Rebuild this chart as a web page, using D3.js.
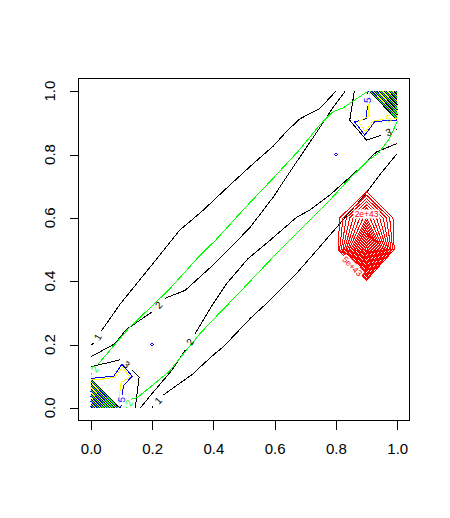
<!DOCTYPE html>
<html><head><meta charset="utf-8">
<script src="https://cdn.jsdelivr.net/npm/d3@7"></script>
<style>body{margin:0;background:#fff}svg{display:block}</style>
</head><body><svg id="chart" width="450" height="518"></svg>
<script>
// ---------- data ----------
const xTickValues = [0, 0.2, 0.4, 0.6, 0.8, 1.0];
const yTickValues = [0, 0.2, 0.4, 0.6, 0.8, 1.0];
const tickLabels = ["0.0", "0.2", "0.4", "0.6", "0.8", "1.0"];

// black contour lines (null = gap where the label sits)
const level1Upper = [[0,0.198],[0.012,0.205],null,[0.034,0.242],[0.097,0.329],[0.194,0.445],[0.29,0.561],[0.36,0.618],[0.45,0.7],[0.53,0.771],[0.595,0.826],[0.64,0.874],[0.683,0.913],[0.747,0.945],[0.8,1.0]];
const level1Lower = [[0.2,0],[0.204,0.006],null,[0.236,0.04],[0.259,0.056],[0.335,0.108],[0.357,0.129],[0.406,0.172],[0.433,0.193],[0.52,0.282],[0.585,0.34],[0.671,0.424],[0.709,0.466],[0.747,0.508],[0.82,0.59],[0.893,0.671],[0.942,0.735],[1.0,0.803]];
const level2Upper = [[0,0.161],[0.08,0.203],[0.113,0.245],[0.2,0.303],null,[0.243,0.346],[0.308,0.371],[0.406,0.457],[0.46,0.51],[0.52,0.57],[0.595,0.665],[0.66,0.76],[0.737,0.87],[0.789,0.946],[0.83,1.0]];
const level2Lower = [[0.162,0],[0.2,0.045],[0.265,0.119],[0.308,0.182],null,[0.341,0.235],[0.4,0.33],[0.444,0.393],[0.513,0.471],[0.585,0.529],[0.672,0.602],[0.714,0.624],[0.779,0.671],[0.877,0.756],[0.932,0.808],[1.0,0.835]];
const level3LowLeft = [[0,0.13],[0.05,0.141],[0.097,0.152],null,[0.135,0.12],[0.158,0.097],[0.145,0]];
const level3UpRight = [[0.86,1.0],[0.845,0.908],[0.9,0.845],[0.948,0.861],null,[0.995,0.879],[1.0,0.88]];

// green contour lines
const greenUpper = [[0,0.105],[0.003,0.108],null,[0.024,0.138],[0.091,0.214],[0.124,0.251],[0.254,0.372],[0.357,0.482],[0.406,0.528],[0.5,0.628],[0.6,0.73],[0.683,0.817],[0.747,0.893],[0.789,0.934],[0.823,0.947],[0.861,0.972],[0.905,1.0]];
const greenLower = [[0.116,0],[0.118,0.003],null,[0.132,0.027],[0.151,0.032],[0.2,0.07],[0.255,0.114],[0.357,0.235],[0.406,0.285],[0.487,0.366],[0.585,0.466],[0.682,0.561],[0.78,0.656],[0.845,0.724],[0.9,0.777],[0.942,0.808],[0.975,0.851],[1.0,0.905]];

// blue and yellow contour lines near the corners
const blueUpRight = [[0.905,1.0],[0.904,0.99],null,[0.902,0.952],[0.9,0.914],[0.861,0.903],[0.894,0.861],[0.926,0.903],[0.97,0.908],[1.0,0.908]];
const blueLowLeft = [[0,0.093],[0.075,0.1],[0.102,0.138],[0.135,0.1],[0.107,0.07],[0.102,0.042],null,[0.099,0.009],[0.098,0]];
const yellowUpRight = [[0.91,1.0],[0.906,0.92],[0.873,0.905],[0.896,0.872],[0.92,0.905],[0.955,0.912],null,[0.99,0.914],[1.0,0.914]];
const yellowLowLeft = [[0,0.088],[0.03,0.09],[0.078,0.096],[0.103,0.128],[0.127,0.097],[0.097,0.078],[0.094,0.03],[0.092,0]];

// tiny blue closed contours (centres)
const blueDots = [[0.2,0.2],[0.8,0.8]];

// dense corner contours: offsets from the corner (data units)
const stripesLowLeft = [0.093,0.089,0.085,0.081,0.077,0.073,0.069,0.065,0.061,0.057,0.053,0.049,0.045,0.041,0.037,0.033,0.029,0.025,0.021,0.017,0.013,0.009,0.005];
const stripesUpRight = [0.091,0.087,0.083,0.079,0.075,0.071,0.067,0.063,0.059,0.055,0.051,0.047,0.043,0.039,0.035,0.031,0.027,0.023,0.019,0.015,0.011,0.007,0.003];
const stripeColors = ["#000000","#00FF00","#0000FF","#FFFF00"];

// red bump: grid values (units of 1e43) and levels
const redGridX = [0.7, 0.8, 0.9, 1.0];
const redGridY = [0.3, 0.4, 0.5, 0.6, 0.7];
const redZ = [
  [0, 0.10, 0.10, 0],     // y = 0.3
  [0, 0.20, 0.72, 0.10],  // y = 0.4
  [0, 0.32, 10.0, 0],     // y = 0.5
  [0, 0.45, 5.00, 0.35],  // y = 0.6
  [0, 0.05, 0.12, 0.05]   // y = 0.7
];
const redLevels = [1,1.5,2,2.5,3,3.5,4,4.5,5,5.5,6,6.5,7,7.5,8,8.5,9,9.5];
const redLabels = [{text:"2e+43", x:0.9, y:0.612, angle:0},{text:"5e+43", x:0.853, y:0.447, angle:45}];

// ---------- drawing ----------
const svg = d3.select("#chart");
const x = d3.scaleLinear().domain([-0.04, 1.04]).range([78.5, 409.5]);
const y = d3.scaleLinear().domain([-0.04, 1.04]).range([420.5, 78.5]);
const line = d3.line().defined(d => d !== null).x(d => x(d[0])).y(d => y(d[1]));
const font = "'Liberation Sans', Arial, Helvetica, sans-serif";

svg.append("rect").attr("width",450).attr("height",518).attr("fill","#fff");

const g = svg.append("g").attr("shape-rendering","crispEdges").attr("fill","none").attr("stroke-width",1);

// corner stripes
stripesLowLeft.forEach((t,i) => {
  g.append("path").attr("d", line([[t,0],[0,t]])).attr("stroke", stripeColors[i % stripeColors.length]);
});
stripesUpRight.forEach((t,i) => {
  g.append("path").attr("d", line([[1-t,1],[1,1-t]])).attr("stroke", stripeColors[i % stripeColors.length]);
});

const contourSets = [
  {pts: level1Upper, color:"#000000", label:"1"},
  {pts: level1Lower, color:"#000000", label:"1"},
  {pts: level2Upper, color:"#000000", label:"2"},
  {pts: level2Lower, color:"#000000", label:"2"},
  {pts: level3LowLeft, color:"#000000", label:"3"},
  {pts: level3UpRight, color:"#000000", label:"3"},
  {pts: greenUpper, color:"#00FF00", label:"2"},
  {pts: greenLower, color:"#00FF00", label:"2"},
  {pts: blueUpRight, color:"#0000FF", label:"5"},
  {pts: blueLowLeft, color:"#0000FF", label:"5"},
  {pts: yellowUpRight, color:"#FFFF00", label:"5"},
  {pts: yellowLowLeft, color:"#FFFF00", label:null}
];

contourSets.forEach(s => {
  g.append("path").attr("d", line(s.pts)).attr("stroke", s.color);
});

// tiny blue loops
blueDots.forEach(p => {
  const cx = x(p[0]), cy = y(p[1]);
  g.append("path").attr("d", `M${cx-1.5},${cy}L${cx},${cy-1.5}L${cx+1.5},${cy}L${cx},${cy+1.5}Z`).attr("stroke","#0000FF");
});

// red bump contours via d3.contours
const nx = redGridX.length, ny = redGridY.length;
const redValues = [];
for (let j = 0; j < ny; j++) for (let i = 0; i < nx; i++) redValues.push(redZ[j][i]);
const redContours = d3.contours().size([nx, ny]).thresholds(redLevels)(redValues);
const dxg = redGridX[1] - redGridX[0], dyg = redGridY[1] - redGridY[0];
const toData = c => [redGridX[0] + (c[0] - 0.5) * dxg, redGridY[0] + (c[1] - 0.5) * dyg];
redContours.forEach(c => c.coordinates.forEach(poly => poly.forEach(ring => {
  g.append("path").attr("d", line(ring.map(toData)) + "Z").attr("stroke", "#FF0000");
})));

// contour labels (placed in the line gaps, rotated along the line)
const lab = svg.append("g").attr("font-family", font).attr("font-size", 10);
contourSets.forEach(s => {
  if (!s.label) return;
  const k = s.pts.indexOf(null);
  if (k < 0) return;
  const p1 = s.pts[k-1], p2 = s.pts[k+1];
  const px1 = x(p1[0]), py1 = y(p1[1]), px2 = x(p2[0]), py2 = y(p2[1]);
  let ang = Math.atan2(py2 - py1, px2 - px1) * 180 / Math.PI;
  if (ang > 90) ang -= 180;
  if (ang < -90) ang += 180;
  const cx = (px1 + px2) / 2, cy = (py1 + py2) / 2;
  lab.append("text").attr("x", cx).attr("y", cy).attr("text-anchor","middle")
    .attr("dominant-baseline","central").attr("fill", s.color)
    .attr("transform", `rotate(${ang},${cx},${cy})`).text(s.label);
});
redLabels.forEach(l => {
  const cx = x(l.x), cy = y(l.y);
  const t = lab.append("g").attr("transform", `rotate(${l.angle},${cx},${cy})`);
  t.append("rect").attr("x", cx - 13).attr("y", cy - 4.5).attr("width", 26).attr("height", 9).attr("fill","#fff");
  t.append("text").attr("x", cx).attr("y", cy).attr("text-anchor","middle")
    .attr("dominant-baseline","central").attr("fill","#FF0000").attr("font-size", 8.5).text(l.text);
});

// box
svg.append("rect").attr("x",78.5).attr("y",78.5).attr("width",331).attr("height",342)
  .attr("fill","none").attr("stroke","#000").attr("shape-rendering","crispEdges");

// x axis
const xAxis = svg.append("g").attr("transform","translate(0,420.5)")
  .call(d3.axisBottom(x).tickValues(xTickValues).tickFormat((d,i) => tickLabels[i]).tickSize(9).tickSizeOuter(0).tickPadding(14));
xAxis.select(".domain").remove();
xAxis.selectAll("line").attr("shape-rendering","crispEdges");
xAxis.selectAll("text").attr("font-family", font).attr("font-size", 15).attr("fill","#000");

// y axis
const yAxis = svg.append("g").attr("transform","translate(78.5,0)")
  .call(d3.axisLeft(y).tickValues(yTickValues).tickFormat("").tickSize(9).tickSizeOuter(0));
yAxis.select(".domain").remove();
yAxis.selectAll("line").attr("shape-rendering","crispEdges");
svg.append("g").selectAll("text").data(yTickValues).join("text")
  .attr("x", 55).attr("y", d => y(d))
  .attr("transform", d => `rotate(-90,55,${y(d)})`)
  .attr("text-anchor","middle").attr("font-family", font).attr("font-size", 15).attr("fill","#000")
  .text((d,i) => tickLabels[i]);
</script>
</body></html>
